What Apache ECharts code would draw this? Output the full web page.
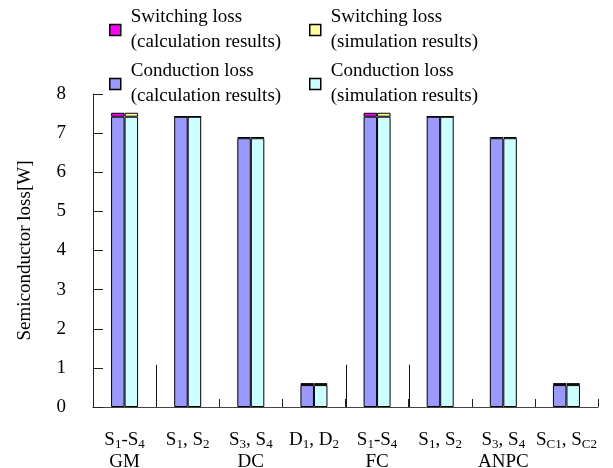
<!DOCTYPE html>
<html>
<head>
<meta charset="utf-8">
<script src="https://cdn.jsdelivr.net/npm/echarts@6/dist/echarts.min.js"></script>
<style>html,body{margin:0;padding:0;background:#fff;}#c{width:613px;height:468px;}</style>
</head>
<body>
<div id="c"></div>
<script>
// Category labels (underscore marks a subscript)
var categories = ['S_1-S_4', 'S_1, S_2', 'S_3, S_4', 'D_1, D_2', 'S_1-S_4', 'S_1, S_2', 'S_3, S_4', 'S_C1, S_C2'];
var groupLabels = ['GM', '', 'DC', '', 'FC', '', 'ANPC', ''];
var yTicks = [0, 1, 2, 3, 4, 5, 6, 7, 8];
// Loss values [W]
var conductionCalc = [7.42, 7.42, 6.87, 0.56, 7.42, 7.42, 6.87, 0.56];
var switchingCalc  = [0.10, 0.00, 0.03, 0.05, 0.10, 0.00, 0.03, 0.05];
var conductionSim  = [7.42, 7.42, 6.87, 0.56, 7.42, 7.42, 6.87, 0.56];
var switchingSim   = [0.10, 0.00, 0.03, 0.05, 0.10, 0.00, 0.03, 0.05];
// Tall group dividers: [index of category right of the divider, divider height in W]
var dividers = [[1, 1.08], [4, 1.08], [5, 1.08]];

var FONT = 'Liberation Serif';
var names = {
  swCalc: 'Switching loss\n(calculation results)',
  swSim: 'Switching loss\n(simulation results)',
  cdCalc: 'Conduction loss\n(calculation results)',
  cdSim: 'Conduction loss\n(simulation results)'
};
function richLabel(s) {
  var out = '';
  var re = /_([A-Za-z0-9]+)/g, last = 0, m;
  while ((m = re.exec(s)) !== null) {
    if (m.index > last) out += '{n|' + s.slice(last, m.index) + '}';
    out += '{s|' + m[1] + '}';
    last = re.lastIndex;
  }
  if (last < s.length) out += '{n|' + s.slice(last) + '}';
  return out;
}
function mkLegend(name, left, top, padTop) {
  return {
    data: [name], left: left, top: top, orient: 'vertical', padding: 0,
    itemWidth: 11, itemHeight: 11, itemGap: 0, icon: 'rect', selectedMode: false,
    itemStyle: { borderColor: '#000', borderWidth: 1.5 },
    textStyle: { fontFamily: FONT, fontSize: 19, color: '#000', lineHeight: 25, padding: [padTop, 0, 0, 5] }
  };
}
var chart = echarts.init(document.getElementById('c'), null, { renderer: 'canvas' });
var barStyle = function (c) { return { color: c, borderColor: '#000', borderWidth: 1 }; };
chart.setOption({
  animation: false,
  backgroundColor: '#fff',
  legend: [
    mkLegend(names.swCalc, 109, -1, 12),
    mkLegend(names.swSim, 309, -1, 12),
    mkLegend(names.cdCalc, 109, 59, 0),
    mkLegend(names.cdSim, 309, 59, 0)
  ],
  grid: { left: 93, right: 15, top: 94, bottom: 61, outerBoundsMode: 'none', containLabel: false },
  xAxis: {
    type: 'category', data: categories, boundaryGap: true,
    axisLine: { lineStyle: { color: '#444', width: 1 } },
    axisTick: { show: true, inside: true, length: 8, interval: 0, lineStyle: { color: '#222' } },
    axisLabel: {
      interval: 0, margin: 21, color: '#000', fontFamily: FONT,
      formatter: function (v, i) {
        var s = richLabel(v);
        return s + '\n{g|' + (groupLabels[i] || ' ') + '}';
      },
      rich: {
        n: { fontFamily: FONT, fontSize: 19, color: '#000', lineHeight: 24 },
        s: { fontFamily: FONT, fontSize: 13, color: '#000', verticalAlign: 'bottom', lineHeight: 13, padding: [0, 0, 1, 0] },
        g: { fontFamily: FONT, fontSize: 19, color: '#000', lineHeight: 21 }
      }
    }
  },
  yAxis: {
    type: 'value', min: yTicks[0], max: yTicks[yTicks.length - 1], interval: 1,
    name: 'Semiconductor loss[W]', nameLocation: 'middle', nameGap: 58, nameRotate: 90,
    nameTextStyle: { fontFamily: FONT, fontSize: 19, color: '#000' },
    axisLine: { show: true, lineStyle: { color: '#222' } },
    axisTick: { show: true, inside: true, length: 10, lineStyle: { color: '#222' } },
    splitLine: { show: false },
    axisLabel: { margin: 27, fontFamily: FONT, fontSize: 19, color: '#000' }
  },
  series: [
    { name: names.cdCalc, type: 'bar', stack: 'calc', data: conductionCalc, barWidth: 13.5, barGap: '0%', itemStyle: barStyle('#9999ff') },
    { name: names.swCalc, type: 'bar', stack: 'calc', data: switchingCalc, barWidth: 13.5, barGap: '0%', itemStyle: barStyle('#ff00ff') },
    { name: names.cdSim, type: 'bar', stack: 'sim', data: conductionSim, barWidth: 13.5, barGap: '0%', itemStyle: barStyle('#ccffff') },
    { name: names.swSim, type: 'bar', stack: 'sim', data: switchingSim, barWidth: 13.5, barGap: '0%', itemStyle: barStyle('#ffff99') },
    {
      type: 'custom', silent: true, data: dividers, z: 1,
      renderItem: function (params, api) {
        var half = api.size([1, 0])[0] / 2;
        var p0 = api.coord([api.value(0), 0]);
        var p1 = api.coord([api.value(0), api.value(1)]);
        var x = Math.round(p0[0] - half) + 0.5;
        return {
          type: 'line',
          shape: { x1: x, y1: p0[1], x2: x, y2: p1[1] },
          style: { stroke: '#111', lineWidth: 1 }
        };
      }
    }
  ]
});
</script>
</body>
</html>
